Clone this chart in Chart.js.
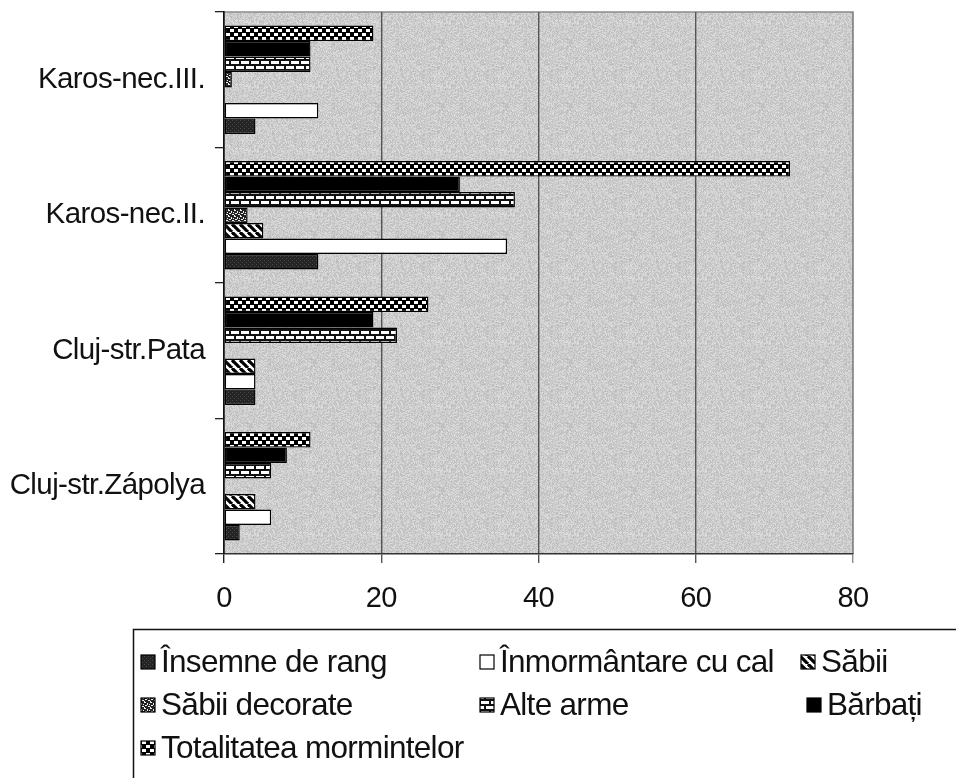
<!DOCTYPE html>
<html>
<head>
<meta charset="utf-8">
<script src="https://cdn.jsdelivr.net/npm/chart.js@4.4.1/dist/chart.umd.min.js"></script>
<style>
html,body{margin:0;padding:0;background:#fff;}
#c{display:block;}
</style>
</head>
<body>
<canvas id="c" width="956" height="778" style="width:956px;height:778px"></canvas>
<script>
// ---- DATA ----
const categories = ['Karos-nec.III.', 'Karos-nec.II.', 'Cluj-str.Pata', 'Cluj-str.Zápolya'];
const seriesNames = ['Însemne de rang', 'Înmormântare cu cal', 'Săbii', 'Săbii decorate', 'Alte arme', 'Bărbați', 'Totalitatea mormintelor'];
const insemneDeRang = [4, 12, 4, 2];
const inmormantareCuCal = [12, 36, 4, 6];
const sabii = [0, 5, 4, 4];
const sabiiDecorate = [1, 3, 0, 0];
const alteArme = [11, 37, 22, 6];
const barbati = [11, 30, 19, 8];
const totalitatea = [19, 72, 26, 11];
const xTickValues = [0, 20, 40, 60, 80];

const canvas = document.getElementById('c');
const ctx = canvas.getContext('2d');

function makePattern(w, h, draw) {
  const c = document.createElement('canvas');
  c.width = w; c.height = h;
  const g = c.getContext('2d');
  draw(g, w, h);
  return ctx.createPattern(c, 'repeat');
}

const patInsemne = makePattern(4, 4, (g) => {
  g.fillStyle = '#242424'; g.fillRect(0, 0, 4, 4);
  g.fillStyle = '#4a4a4a';
  g.fillRect(0, 0, 1, 1); g.fillRect(2, 2, 1, 1);
});
const patSabii = makePattern(8, 8, (g) => {
  g.fillStyle = '#fff'; g.fillRect(0, 0, 8, 8);
  g.strokeStyle = '#000'; g.lineWidth = 3.2;
  for (const x0 of [-8, 0, 8]) {
    g.beginPath(); g.moveTo(x0, 0); g.lineTo(x0 + 8, 8); g.stroke();
  }
});
const patSabiiDec = makePattern(6, 6, (g) => {
  g.fillStyle = '#222'; g.fillRect(0, 0, 6, 6);
  g.fillStyle = '#eeeeee';
  g.fillRect(0, 0, 2, 1); g.fillRect(3, 1, 1, 2); g.fillRect(1, 3, 2, 1);
  g.fillRect(4, 4, 2, 1); g.fillRect(0, 5, 1, 1); g.fillRect(5, 2, 1, 1);
});
const patAlte = makePattern(10, 10, (g) => {
  g.fillStyle = '#111'; g.fillRect(0, 0, 10, 10);
  g.fillStyle = '#fff';
  g.fillRect(1, 1, 8, 3);
  g.fillRect(6, 6, 8, 3); g.fillRect(-4, 6, 8, 3);
});
const patTotal = makePattern(8, 8, (g) => {
  g.fillStyle = '#000'; g.fillRect(0, 0, 8, 8);
  g.fillStyle = '#fff';
  g.fillRect(2, 1, 4, 3);
  g.fillRect(6, 5, 4, 3); g.fillRect(-2, 5, 4, 3);
});
// plot background speckle texture (deterministic)
const patBg = makePattern(64, 64, (g) => {
  const img = g.createImageData(64, 64);
  let s = 12345;
  for (let i = 0; i < 64 * 64; i++) {
    s = (s * 1103515245 + 12345) & 0x7fffffff;
    const v = 186 + ((s >> 16) % 38);
    img.data[i * 4] = v; img.data[i * 4 + 1] = v; img.data[i * 4 + 2] = v; img.data[i * 4 + 3] = 255;
  }
  g.putImageData(img, 0, 0);
});

const fills = [patInsemne, '#ffffff', patSabii, patSabiiDec, patAlte, '#000000', patTotal];
const values = [insemneDeRang, inmormantareCuCal, sabii, sabiiDecorate, alteArme, barbati, totalitatea];

// datasets reversed so the first series sits at the bottom of each group
const datasets = [];
for (let i = seriesNames.length - 1; i >= 0; i--) {
  datasets.push({
    label: seriesNames[i],
    data: values[i],
    backgroundColor: fills[i],
    borderColor: '#000',
    borderWidth: 1.4,
    borderSkipped: false,
    categoryPercentage: 0.8,
    barPercentage: 1.0
  });
}

const FONT = '"Liberation Sans", Arial, sans-serif';

const bgPlugin = {
  id: 'plotBg',
  beforeDraw(chart) {
    const a = chart.chartArea;
    const c = chart.ctx;
    c.save();
    c.fillStyle = patBg;
    c.fillRect(a.left, a.top, a.right - a.left, a.bottom - a.top);
    c.strokeStyle = '#8a8a8a';
    c.lineWidth = 1.5;
    c.beginPath();
    c.moveTo(a.left, a.top); c.lineTo(a.right, a.top); c.lineTo(a.right, a.bottom);
    c.stroke();
    c.restore();
    c.letterSpacing = '-0.6px';
  }
};

const legendItems = [
  { s: 0, x: 141, row: 0 }, { s: 1, x: 480, row: 0 }, { s: 2, x: 801, row: 0 },
  { s: 3, x: 141, row: 1 }, { s: 4, x: 480, row: 1 }, { s: 5, x: 807, row: 1 },
  { s: 6, x: 141, row: 2 }
];
const legendRows = [662, 705, 748];

const legendPlugin = {
  id: 'gridLegend',
  afterDraw(chart) {
    const c = chart.ctx;
    c.save();
    c.strokeStyle = '#111';
    c.lineWidth = 1.5;
    c.strokeRect(133.5, 629.5, 1000, 300);
    c.font = '31.5px ' + FONT;
    c.letterSpacing = '-0.7px';
    c.textBaseline = 'middle';
    c.fillStyle = '#111';
    for (const it of legendItems) {
      const y = legendRows[it.row];
      const sz = 14;
      c.fillStyle = fills[it.s];
      c.fillRect(it.x, y - sz / 2, sz, sz);
      c.strokeStyle = '#000'; c.lineWidth = 1.2;
      c.strokeRect(it.x, y - sz / 2, sz, sz);
      c.fillStyle = '#111';
      c.fillText(seriesNames[it.s], it.x + 20, y + 1);
    }
    c.restore();
  }
};

new Chart(ctx, {
  type: 'bar',
  data: { labels: categories, datasets },
  options: {
    indexAxis: 'y',
    responsive: false,
    animation: false,
    devicePixelRatio: 1,
    layout: { padding: { top: 12, right: 103, bottom: 154, left: 0 } },
    plugins: {
      legend: { display: false },
      tooltip: { enabled: false }
    },
    scales: {
      x: {
        min: 0, max: 80,
        afterFit(s) { s.height = 70; s.paddingLeft = 0; s.paddingRight = 0; },
        afterBuildTicks(s) { s.ticks = xTickValues.map(v => ({ value: v })); },
        grid: {
          color: (c) => (c.tick && c.tick.value === 80) ? '#8a8a8a' : (c.tick && c.tick.value === 0 ? '#222' : '#555'),
          lineWidth: 1.4,
          tickLength: 9,
          drawTicks: true
        },
        border: { display: true, color: '#333', width: 1.5 },
        ticks: {
          color: '#111',
          font: { family: FONT, size: 29 },
          padding: 19
        }
      },
      y: {
        afterFit(s) { s.width = 224; s.paddingTop = 0; s.paddingBottom = 0; },
        grid: {
          drawOnChartArea: false,
          drawTicks: true,
          tickLength: 9,
          color: '#222',
          lineWidth: 1.3
        },
        border: { display: true, color: '#111', width: 1.6 },
        ticks: {
          color: '#111',
          font: { family: FONT, size: 29.5 },
          padding: 10
        }
      }
    }
  },
  plugins: [bgPlugin, legendPlugin]
});
</script>
</body>
</html>
